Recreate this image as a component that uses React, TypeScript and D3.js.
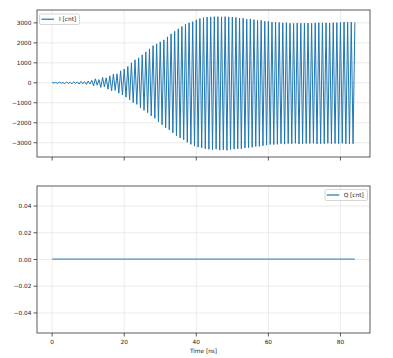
import React from "react";
import * as d3 from "d3";

// Upper peaks of I [cnt] at t = 0,1,...,84 ns
const iUpper = [
  20, 15, 30, 10, 40, 20, 50, 40, 70, 60, 90, 120, 200, 160, 270, 250, 350, 440, 450, 600,
  690, 820, 1000, 1150, 1250, 1400, 1550, 1700, 1860, 1950, 2050, 2150, 2300, 2450, 2580, 2700,
  2820, 2930, 3000, 3060, 3150, 3220, 3260, 3290, 3300, 3310, 3310, 3300, 3310, 3300, 3290, 3270,
  3240, 3230, 3180, 3200, 3160, 3120, 3130, 3080, 3070, 3040, 3040, 3020, 3000, 3010, 2980, 2970,
  2990, 2980, 2990, 2990, 2980, 3000, 3010, 3000, 3000, 2990, 3010, 3010, 3020, 3040, 3030, 3040, 3020,
];
// Lower peaks of I [cnt] at t = 0.5,1.5,...,83.5 ns
const iLower = [
  -10, -30, -20, -40, -30, -50, -30, -60, -50, -80, -60, -150, -120, -230, -200, -320, -400, -380,
  -520, -600, -720, -850, -990, -1080, -1250, -1380, -1500, -1650, -1780, -1950, -2100, -2250, -2350,
  -2500, -2650, -2760, -2850, -2980, -3080, -3170, -3220, -3260, -3300, -3330, -3350, -3320, -3370,
  -3350, -3380, -3340, -3320, -3300, -3300, -3260, -3250, -3230, -3190, -3180, -3150, -3120, -3090,
  -3090, -3080, -3050, -3070, -3040, -3050, -3030, -3060, -3050, -3040, -3040, -3030, -3060, -3050,
  -3050, -3030, -3050, -3040, -3050, -3030, -3050, -3060, -3050,
];
const qTimes = [0, 84];
const qValues = [0, 0];

const xTicks = [0, 20, 40, 60, 80];
const iTicks = [-3000, -2000, -1000, 0, 1000, 2000, 3000];
const qTicks = [-0.04, -0.02, 0.0, 0.02, 0.04];
const xLabel = "Time [ns]";
const iLabel = "I [cnt]";
const qLabel = "Q [cnt]";

const W = 393, H = 358;
const L = 37, R = 370;
const T1 = 10, B1 = 157;
const T2 = 186, B2 = 333;
const FONT = "DejaVu Sans";
const FS = 5.8;
const BLUE = "#1f77b4";
const SPINE = "#333333";
const GRID = "#e6e6e6";

const fmtMinus = (s: string) => s.replace("-", "\u2212");

export default function App() {
  const iData: [number, number][] = [];
  for (let k = 0; k < iUpper.length; k++) {
    iData.push([k, iUpper[k]]);
    if (k < iLower.length) iData.push([k + 0.5, iLower[k]]);
  }
  const tMin = d3.min(iData, (d) => d[0])!;
  const tMax = d3.max(iData, (d) => d[0])!;
  const tPad = (tMax - tMin) * 0.05;
  const x = d3.scaleLinear().domain([tMin - tPad, tMax + tPad]).range([L, R]);

  const vMin = d3.min(iData, (d) => d[1])!;
  const vMax = d3.max(iData, (d) => d[1])!;
  const vPad = (vMax - vMin) * 0.05;
  const yI = d3.scaleLinear().domain([vMin - vPad, vMax + vPad]).range([B1, T1]);
  const yQ = d3.scaleLinear().domain([-0.055, 0.055]).range([B2, T2]);

  const lineI = d3.line<[number, number]>().x((d) => x(d[0])).y((d) => yI(d[1]));
  const qData: [number, number][] = qTimes.map((t, i) => [t, qValues[i]]);

  const fmtQ = d3.format(".2f");

  const frame = (top: number, bottom: number) => (
    <rect x={L} y={top} width={R - L} height={bottom - top} fill="none" stroke={SPINE} strokeWidth={0.8} />
  );

  return (
    <svg width={W} height={H} style={{ position: "absolute", left: 0, top: 0 }} fontFamily={FONT}>
      <rect x={0} y={0} width={W} height={H} fill="white" />
      {/* Top axes grid */}
      {xTicks.map((t) => (
        <line key={"gx1" + t} x1={x(t)} x2={x(t)} y1={T1} y2={B1} stroke={GRID} strokeWidth={0.8} />
      ))}
      {iTicks.map((v) => (
        <line key={"gy1" + v} x1={L} x2={R} y1={yI(v)} y2={yI(v)} stroke={GRID} strokeWidth={0.8} />
      ))}
      <path d={lineI(iData) || ""} fill="none" stroke={BLUE} strokeWidth={1} strokeLinejoin="round" />
      {frame(T1, B1)}
      {xTicks.map((t) => (
        <line key={"tx1" + t} x1={x(t)} x2={x(t)} y1={B1} y2={B1 + 3.5} stroke={SPINE} strokeWidth={0.8} />
      ))}
      {iTicks.map((v) => (
        <g key={"ty1" + v}>
          <line x1={L - 3.5} x2={L} y1={yI(v)} y2={yI(v)} stroke={SPINE} strokeWidth={0.8} />
          <text x={L - 5.5} y={yI(v)} dy="0.35em" textAnchor="end" fontSize={FS} fill="#222">
            {fmtMinus(String(v))}
          </text>
        </g>
      ))}
      {/* Legend top */}
      <rect x={39.5} y={14} width={40} height={10.5} rx={1.5} fill="white" fillOpacity={0.8} stroke="#cccccc" strokeWidth={0.8} />
      <line x1={41.5} x2={54} y1={19.2} y2={19.2} stroke={BLUE} strokeWidth={1.2} />
      <text x={59} y={19.2} dy="0.35em" fontSize={FS} fill="#222">{iLabel}</text>

      {/* Bottom axes grid */}
      {xTicks.map((t) => (
        <line key={"gx2" + t} x1={x(t)} x2={x(t)} y1={T2} y2={B2} stroke={GRID} strokeWidth={0.8} />
      ))}
      {qTicks.map((v) => (
        <line key={"gy2" + v} x1={L} x2={R} y1={yQ(v)} y2={yQ(v)} stroke={GRID} strokeWidth={0.8} />
      ))}
      <line
        x1={x(qData[0][0])}
        x2={x(qData[1][0])}
        y1={yQ(qData[0][1]) - 0.3}
        y2={yQ(qData[1][1]) - 0.3}
        style={{ stroke: "#4a90c8", strokeWidth: 1.3 }}
      />
      {frame(T2, B2)}
      {xTicks.map((t) => (
        <g key={"tx2" + t}>
          <line x1={x(t)} x2={x(t)} y1={B2} y2={B2 + 3.5} stroke={SPINE} strokeWidth={0.8} />
          <text x={x(t)} y={B2 + 9} dy="0.35em" textAnchor="middle" fontSize={FS} fill="#222">
            {String(t)}
          </text>
        </g>
      ))}
      {qTicks.map((v) => (
        <g key={"ty2" + v}>
          <line x1={L - 3.5} x2={L} y1={yQ(v)} y2={yQ(v)} stroke={SPINE} strokeWidth={0.8} />
          <text x={L - 5.5} y={yQ(v)} dy="0.35em" textAnchor="end" fontSize={FS} fill="#222">
            {fmtMinus(fmtQ(v))}
          </text>
        </g>
      ))}
      <text x={(L + R) / 2} y={351} dy="0.35em" textAnchor="middle" fontSize={FS} fill="#222">{xLabel}</text>
      {/* Legend bottom */}
      <rect x={325} y={189.5} width={42.5} height={11} rx={1.5} fill="white" fillOpacity={0.8} stroke="#cccccc" strokeWidth={0.8} />
      <line x1={326.7} x2={339.3} y1={195} y2={195} stroke={BLUE} strokeWidth={1.2} />
      <text x={343.7} y={195} dy="0.35em" fontSize={FS} fill="#222">{qLabel}</text>
    </svg>
  );
}
